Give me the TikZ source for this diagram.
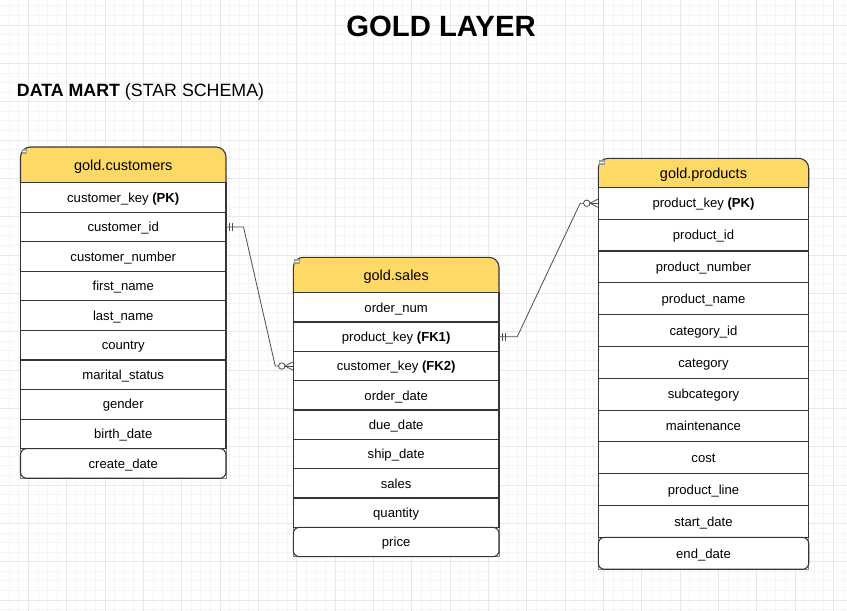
\documentclass[tikz,border=0pt]{standalone}
\usepackage{fontspec}
\setmainfont{Liberation Sans}
\usetikzlibrary{calc}
\definecolor{hdrc}{HTML}{FFD966}
\definecolor{edgec}{HTML}{363636}
\definecolor{gmin}{HTML}{F5F5F5}
\definecolor{gmaj}{HTML}{E8E8E8}
\definecolor{connc}{HTML}{4D4D4D}
\begin{document}
\begin{tikzpicture}[x=1pt,y=-1pt,
  minorgrid/.style={draw=gmin, line width=0.7pt},
  majorgrid/.style={draw=gmaj, line width=0.7pt},
  hdrbox/.style={draw=edgec, fill=hdrc, line width=1.1pt, rounded corners=10pt},
  hdrtext/.style={font=\fontsize{14.5}{17}\selectfont, inner sep=0pt, text height=10.4pt, text depth=0pt},
  rowbase/.style={draw=edgec, fill=white, line width=1.1pt, inner sep=0pt, font=\fontsize{13.1}{15}\selectfont, text height=9.3pt, text depth=0pt},
  crow/.style={rowbase, minimum width=205.5pt, minimum height=29.55pt},
  srow/.style={rowbase, minimum width=205.7pt, minimum height=29.33pt},
  prow/.style={rowbase, minimum width=210.4pt, minimum height=31.83pt},
  lastrow/.style={rounded corners=6pt},
  outerbox/.style={draw=edgec!60, line width=0.6pt},
  connline/.style={draw=connc, line width=0.8pt},
  iconbox/.style={fill=gray!75, draw=none},
  icondash/.style={draw=white, line width=0.6pt},
]
% canvas and grid
\fill[white] (0,0) rectangle (847,611);
\useasboundingbox (0,0) rectangle (847,611);
\foreach \i in {-2,...,85} \draw[minorgrid] ({28.333+\i*9.5833},0) -- ({28.333+\i*9.5833},611);
\foreach \i in {-2,...,61} \draw[minorgrid] (0,{25+\i*9.5833}) -- (847,{25+\i*9.5833});
\foreach \i in {0,...,21} \draw[majorgrid] ({28.333+\i*38.333},0) -- ({28.333+\i*38.333},611);
\foreach \i in {0,...,15} \draw[majorgrid] (0,{25+\i*38.333}) -- (847,{25+\i*38.333});

% titles
\node[font=\bfseries\fontsize{29.3}{34}\selectfont, anchor=base, inner sep=0pt] (title) at (441,36) {GOLD LAYER};
\node[font=\fontsize{17.8}{21}\selectfont, anchor=base west, inner sep=0pt] (subtitle) at (16.7,96.7) {\textbf{DATA MART} (STAR SCHEMA)};

% ---------- gold.customers ----------
\draw[outerbox] (20.5,182.7) rectangle (226,478.2);
\draw[hdrbox] (20.5,147) rectangle (226,192.7);
\node[hdrtext] (cust) at (123.25,164.9) {gold.customers};
\fill[iconbox] (21.5,148.5) rectangle (27,153.5);
\draw[icondash] (22.5,151) -- (26,151);
\foreach \t [count=\i] in {{customer\_key \textbf{(PK)}},{customer\_id},{customer\_number},{first\_name},{last\_name},{country},{marital\_status},{gender},{birth\_date}}
  \node[crow] (c\i) at (123.25,{182.7+29.55*(\i-0.5)}) {\t};
\node[crow, lastrow] (c10) at (123.25,463.425) {create\_date};

% ---------- gold.sales ----------
\draw[outerbox] (293.3,292.7) rectangle (499,556.7);
\draw[hdrbox] (293.3,257.3) rectangle (499,302.7);
\node[hdrtext] (sales) at (396.15,275) {gold.sales};
\fill[iconbox] (294.3,258.8) rectangle (299.8,263.8);
\draw[icondash] (295.3,261.3) -- (298.8,261.3);
\foreach \t [count=\i] in {{order\_num},{product\_key \textbf{(FK1)}},{customer\_key \textbf{(FK2)}},{order\_date},{due\_date},{ship\_date},{sales},{quantity}}
  \node[srow] (s\i) at (396.15,{292.7+29.33*(\i-0.5)}) {\t};
\node[srow, lastrow] (s9) at (396.15,542.01) {price};

% ---------- gold.products ----------
\draw[outerbox] (598.3,187.3) rectangle (808.7,569.3);
\draw[hdrbox] (598.3,158.3) rectangle (808.7,197.3);
\node[hdrtext] (prod) at (703.5,172.8) {gold.products};
\fill[iconbox] (599.3,159.8) rectangle (604.8,164.8);
\draw[icondash] (600.3,162.3) -- (603.8,162.3);
\foreach \t [count=\i] in {{product\_key \textbf{(PK)}},{product\_id},{product\_number},{product\_name},{category\_id},{category},{subcategory},{maintenance},{cost},{product\_line},{start\_date}}
  \node[prow] (p\i) at (703.5,{187.3+31.83*(\i-0.5)}) {\t};
\node[prow, lastrow] (p12) at (703.5,553.35) {end\_date};

% ---------- connectors ----------
% customers.customer_id  ||----o<  sales.customer_key
\draw[connline] (c2.east) -- ++(17,0) -- ($(s3.west)+(-17.5,0)$) -- ($(s3.west)+(-14.2,0)$);
\draw[connline] ($(c2.east)+(3,-4)$) -- ++(0,8);
\draw[connline] ($(c2.east)+(6,-4)$) -- ++(0,8);
\draw[connline] ($(s3.west)+(-11,0)$) circle[radius=3.2pt];
\draw[connline] ($(s3.west)+(-7.8,0)$) -- (s3.west);
\draw[connline] ($(s3.west)+(-7.8,0)$) -- ($(s3.west)+(0,-4)$);
\draw[connline] ($(s3.west)+(-7.8,0)$) -- ($(s3.west)+(0,4)$);

% sales.product_key  ||----o<  products.product_key
\draw[connline] (s2.east) -- ++(17.7,0) -- ($(p1.west)+(-17.6,0)$) -- ($(p1.west)+(-14.2,0)$);
\draw[connline] ($(s2.east)+(3,-4)$) -- ++(0,8);
\draw[connline] ($(s2.east)+(6,-4)$) -- ++(0,8);
\draw[connline] ($(p1.west)+(-11,0)$) circle[radius=3.2pt];
\draw[connline] ($(p1.west)+(-7.8,0)$) -- (p1.west);
\draw[connline] ($(p1.west)+(-7.8,0)$) -- ($(p1.west)+(0,-4)$);
\draw[connline] ($(p1.west)+(-7.8,0)$) -- ($(p1.west)+(0,4)$);
\end{tikzpicture}
\end{document}
